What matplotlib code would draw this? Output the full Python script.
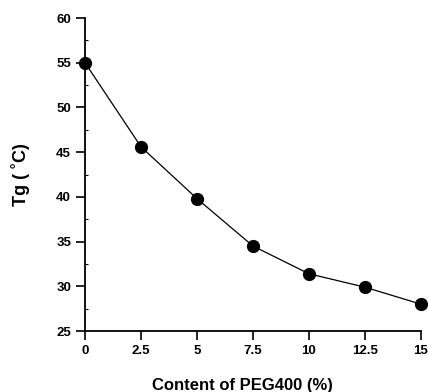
import matplotlib
matplotlib.use("Agg")
import matplotlib.pyplot as plt
from matplotlib.ticker import MultipleLocator

peg_content = [0, 2.5, 5, 7.5, 10, 12.5, 15]
tg_values = [55.0, 45.6, 39.8, 34.5, 31.4, 29.9, 28.0]
x_ticks = [0, 2.5, 5, 7.5, 10, 12.5, 15]
x_tick_labels = ["0", "2.5", "5", "7.5", "10", "12.5", "15"]
y_ticks = [25, 30, 35, 40, 45, 50, 55, 60]

plt.rcParams['font.family'] = ['Liberation Sans', 'DejaVu Sans']
plt.rcParams['font.weight'] = 'bold'

fig = plt.figure(figsize=(4.28, 3.92), dpi=100)
ax = fig.add_axes([0.1986, 0.1556, 0.785, 0.7984])

ax.plot(peg_content, tg_values, color='black', lw=0.9, marker='o',
        markersize=8.5, markerfacecolor='black', markeredgecolor='black',
        clip_on=False, zorder=3)

ax.set_xlim(0, 15)
ax.set_ylim(25, 60)
ax.set_xticks(x_ticks)
ax.set_xticklabels(x_tick_labels)
ax.set_yticks(y_ticks)
ax.yaxis.set_minor_locator(MultipleLocator(2.5))

for s in ['top', 'right']:
    ax.spines[s].set_visible(False)
for s in ['left', 'bottom']:
    ax.spines[s].set_linewidth(1.3)

ax.tick_params(axis='both', which='major', direction='out', length=6.5, width=1.2,
               labelsize=9.5, pad=3.5)
ax.tick_params(axis='y', which='minor', direction='in', length=2.5, width=0.8)
for lab in ax.get_xticklabels() + ax.get_yticklabels():
    lab.set_fontweight('bold')

ax.set_xlabel("Content of PEG400 (%)", fontsize=12, fontweight='bold', labelpad=12)
ax.xaxis.set_label_coords(0.47, -0.15)
ax.set_ylabel("Tg ( ˚C)", fontsize=13, fontweight='bold', labelpad=19)

fig.savefig("out.png", dpi=100)
